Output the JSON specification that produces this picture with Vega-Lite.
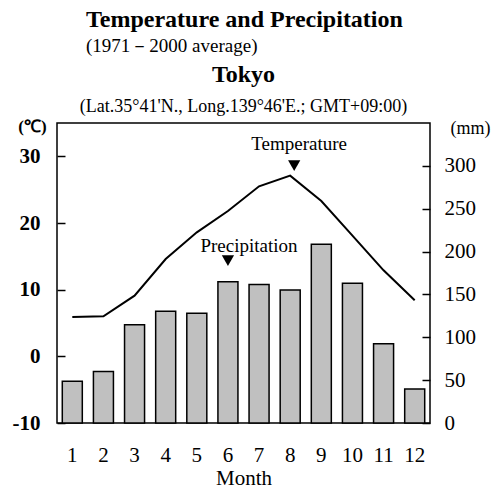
{
  "$schema": "https://vega.github.io/schema/vega-lite/v6.json",
  "padding": {"left": 11, "top": 8, "right": 4, "bottom": 0},
  "background": "white",
  "title": {
    "text": "Temperature and Precipitation",
    "subtitle": "(1971－2000 average)",
    "anchor": "start",
    "frame": "group",
    "dx": 29,
    "offset": 6,
    "font": "Liberation Serif",
    "fontSize": 24,
    "fontWeight": "bold",
    "color": "black",
    "subtitleFont": "Liberation Serif",
    "subtitleFontSize": 19,
    "subtitleColor": "black",
    "subtitlePadding": 5
  },
  "data": {
    "values": [
      {"month": 1, "temp": 5.9, "precip": 48.6},
      {"month": 2, "temp": 6.0, "precip": 60.2},
      {"month": 3, "temp": 9.1, "precip": 114.5},
      {"month": 4, "temp": 14.6, "precip": 130.3},
      {"month": 5, "temp": 18.6, "precip": 128.0},
      {"month": 6, "temp": 21.8, "precip": 164.9},
      {"month": 7, "temp": 25.5, "precip": 161.5},
      {"month": 8, "temp": 27.1, "precip": 155.1},
      {"month": 9, "temp": 23.3, "precip": 208.5},
      {"month": 10, "temp": 18.1, "precip": 163.1},
      {"month": 11, "temp": 12.9, "precip": 92.5},
      {"month": 12, "temp": 8.4, "precip": 39.6}
    ]
  },
  "bounds": "flush",
  "vconcat": [
    {
      "width": 373,
      "height": 300,
      "title": {
        "text": "Tokyo",
        "subtitle": "(Lat.35°41'N., Long.139°46'E.; GMT+09:00)",
        "anchor": "middle",
        "frame": "group",
        "offset": 1,
        "font": "Liberation Serif",
        "fontSize": 24,
        "fontWeight": "bold",
        "color": "black",
        "subtitleFont": "Liberation Serif",
        "subtitleFontSize": 18,
        "subtitleColor": "black",
        "subtitlePadding": 11
      },
      "encoding": {
        "x": {
          "field": "month",
          "type": "ordinal",
          "scale": {"domain": [1, 2, 3, 4, 5, 6, 7, 8, 9, 10, 11, 12], "paddingInner": 0.357, "paddingOuter": 0.17},
          "axis": {
            "title": "Month",
            "labelAngle": 0,
            "ticks": false,
            "domain": false,
            "labelPadding": 21,
            "labelFont": "Liberation Serif",
            "labelFontSize": 21,
            "titleFont": "Liberation Serif",
            "titleFontSize": 21,
            "titleFontWeight": "normal",
            "titlePadding": 2
          }
        }
      },
      "layer": [
        {
          "encoding": {
            "y": {
              "field": "precip",
              "type": "quantitative",
              "scale": {"domain": [0, 350], "nice": false},
              "axis": {
                "orient": "right",
                "values": [0, 50, 100, 150, 200, 250, 300],
                "title": "(mm)",
                "titleAngle": 0,
                "titleX": 40,
                "titleY": 5,
                "titleAlign": "center",
                "titleBaseline": "middle",
                "titleFont": "Liberation Serif",
                "titleFontSize": 18,
                "titleFontWeight": "normal",
                "labelFont": "Liberation Serif",
                "labelFontSize": 21,
                "tickSize": -8,
                "labelPadding": 22
              }
            }
          },
          "layer": [
            {"mark": {"type": "bar", "fill": "#c0c0c0", "stroke": "black", "strokeWidth": 1.5}},
            {
              "transform": [{"filter": "datum.month == 6"}],
              "mark": {"type": "point", "shape": "triangle-down", "filled": true, "color": "black", "opacity": 1, "size": 150, "yOffset": -21}
            },
            {
              "transform": [{"filter": "datum.month == 6"}],
              "mark": {"type": "text", "text": "Precipitation", "font": "Liberation Serif", "fontSize": 19, "color": "black", "dx": 21, "dy": -36, "baseline": "middle"}
            }
          ]
        },
        {
          "encoding": {
            "y": {
              "field": "temp",
              "type": "quantitative",
              "scale": {"domain": [-10, 35], "nice": false, "zero": false},
              "axis": {
                "orient": "left",
                "values": [-10, 0, 10, 20, 30],
                "labelExpr": "replace(datum.label, '−', '-')",
                "title": "(℃)",
                "titleAngle": 0,
                "titleX": -25,
                "titleY": 3,
                "titleAlign": "center",
                "titleBaseline": "middle",
                "titleFont": "Liberation Serif",
                "titleFontSize": 17,
                "titleFontWeight": "bold",
                "labelFont": "Liberation Serif",
                "labelFontSize": 21,
                "labelFontWeight": "bold",
                "tickSize": -8,
                "labelPadding": 25
              }
            }
          },
          "layer": [
            {"mark": {"type": "line", "color": "black", "strokeWidth": 2}},
            {
              "transform": [{"filter": "datum.month == 8"}],
              "mark": {"type": "point", "shape": "triangle-down", "filled": true, "color": "black", "opacity": 1, "size": 150, "xOffset": 4, "yOffset": -10}
            },
            {
              "transform": [{"filter": "datum.month == 8"}],
              "mark": {"type": "text", "text": "Temperature", "font": "Liberation Serif", "fontSize": 19, "color": "black", "dx": 9, "dy": -32, "baseline": "middle"}
            }
          ]
        }
      ],
      "resolve": {"scale": {"y": "independent"}}
    }
  ],
  "config": {
    "font": "Liberation Serif",
    "view": {"stroke": "black", "strokeWidth": 1.5},
    "axis": {
      "grid": false,
      "domain": false,
      "labelColor": "black",
      "titleColor": "black",
      "tickColor": "black",
      "tickWidth": 1.5
    }
  }
}
